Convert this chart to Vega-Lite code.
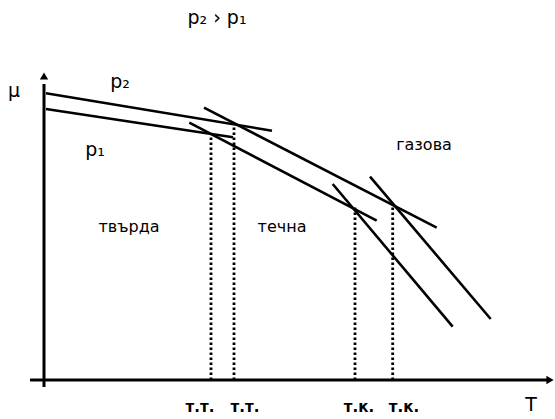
{
  "$schema": "https://vega.github.io/schema/vega-lite/v6.json",
  "width": 555,
  "height": 419,
  "autosize": {"type": "fit", "contains": "padding"},
  "padding": 0,
  "background": "white",
  "config": {"view": {"stroke": null}},
  "datasets": {
    "lines": [
      {"id": "p2_solid", "T": 0.2, "mu": 28.67},
      {"id": "p2_solid", "T": 22.8, "mu": 24.93},
      {"id": "p1_solid", "T": 0.2, "mu": 27.1},
      {"id": "p1_solid", "T": 18.9, "mu": 24.27},
      {"id": "p2_liquid", "T": 16.0, "mu": 27.23},
      {"id": "p2_liquid", "T": 39.27, "mu": 15.23},
      {"id": "p1_liquid", "T": 14.53, "mu": 25.73},
      {"id": "p1_liquid", "T": 33.27, "mu": 15.93},
      {"id": "p1_gas", "T": 28.87, "mu": 19.6},
      {"id": "p1_gas", "T": 40.87, "mu": 5.33},
      {"id": "p2_gas", "T": 32.6, "mu": 20.33},
      {"id": "p2_gas", "T": 44.67, "mu": 6.1}
    ],
    "dotted": [
      {"T": 16.7, "bottom": 0, "top": 24.4},
      {"T": 19.0, "bottom": 0, "top": 25.3},
      {"T": 31.1, "bottom": 0, "top": 17.3},
      {"T": 34.87, "bottom": 0, "top": 17.6}
    ],
    "axes": [
      {"axis": "T", "x1": -1.4, "x2": 50.6, "y1": 0, "y2": 0},
      {"axis": "mu", "x1": 0, "x2": 0, "y1": -0.7, "y2": 29.6}
    ],
    "arrows": [
      {"axis": "T", "T": 50.6, "mu": 0},
      {"axis": "mu", "T": 0, "mu": 30.4}
    ],
    "labels": [
      {"text": "p₂ › p₁", "T": 17.3, "mu": 36.2, "group": "big"},
      {"text": "μ", "T": -3.0, "mu": 28.9, "group": "big"},
      {"text": "p₂", "T": 7.6, "mu": 29.8, "group": "big"},
      {"text": "p₁", "T": 5.1, "mu": 23.0, "group": "big"},
      {"text": "твърда", "T": 8.5, "mu": 15.3, "group": "phase"},
      {"text": "течна", "T": 23.8, "mu": 15.3, "group": "phase"},
      {"text": "газова", "T": 38.0, "mu": 23.5, "group": "phase"},
      {"text": "т.т.", "T": 15.6, "mu": -2.7, "group": "tick"},
      {"text": "т.т.", "T": 20.1, "mu": -2.7, "group": "tick"},
      {"text": "т.к.", "T": 31.5, "mu": -2.7, "group": "tick"},
      {"text": "т.к.", "T": 36.0, "mu": -2.7, "group": "tick"},
      {"text": "T", "T": 48.7, "mu": -2.5, "group": "big"}
    ]
  },
  "layer": [
    {
      "data": {"name": "axes"},
      "mark": {"type": "rule", "color": "black", "strokeWidth": 3},
      "encoding": {
        "x": {"field": "x1", "type": "quantitative", "scale": {"domain": [-4.4, 51.1], "nice": false, "zero": false}, "axis": null},
        "x2": {"field": "x2"},
        "y": {"field": "y1", "type": "quantitative", "scale": {"domain": [-3.9, 38.0], "nice": false, "zero": false}, "axis": null},
        "y2": {"field": "y2"}
      }
    },
    {
      "data": {"name": "arrows"},
      "transform": [{"filter": "datum.axis === 'T'"}],
      "mark": {"type": "point", "shape": "triangle-right", "filled": true, "color": "black", "opacity": 1, "size": 70},
      "encoding": {
        "x": {"field": "T", "type": "quantitative"},
        "y": {"field": "mu", "type": "quantitative"}
      }
    },
    {
      "data": {"name": "arrows"},
      "transform": [{"filter": "datum.axis === 'mu'"}],
      "mark": {"type": "point", "shape": "triangle-up", "filled": true, "color": "black", "opacity": 1, "size": 70},
      "encoding": {
        "x": {"field": "T", "type": "quantitative"},
        "y": {"field": "mu", "type": "quantitative"}
      }
    },
    {
      "data": {"name": "lines"},
      "mark": {"type": "line", "color": "black", "strokeWidth": 2.6},
      "encoding": {
        "x": {"field": "T", "type": "quantitative"},
        "y": {"field": "mu", "type": "quantitative"},
        "detail": {"field": "id", "type": "nominal"}
      }
    },
    {
      "data": {"name": "dotted"},
      "mark": {"type": "rule", "color": "black", "strokeWidth": 2.8, "strokeDash": [2.5, 2.5]},
      "encoding": {
        "x": {"field": "T", "type": "quantitative"},
        "y": {"field": "bottom", "type": "quantitative"},
        "y2": {"field": "top"}
      }
    },
    {
      "data": {"name": "labels"},
      "transform": [{"filter": "datum.group === 'big'"}],
      "mark": {"type": "text", "font": "DejaVu Sans", "fontSize": 19, "color": "black", "align": "center", "baseline": "middle"},
      "encoding": {
        "x": {"field": "T", "type": "quantitative"},
        "y": {"field": "mu", "type": "quantitative"},
        "text": {"field": "text"}
      }
    },
    {
      "data": {"name": "labels"},
      "transform": [{"filter": "datum.group === 'phase'"}],
      "mark": {"type": "text", "font": "DejaVu Sans", "fontSize": 16, "color": "black", "align": "center", "baseline": "middle"},
      "encoding": {
        "x": {"field": "T", "type": "quantitative"},
        "y": {"field": "mu", "type": "quantitative"},
        "text": {"field": "text"}
      }
    },
    {
      "data": {"name": "labels"},
      "transform": [{"filter": "datum.group === 'tick'"}],
      "mark": {"type": "text", "font": "DejaVu Sans", "fontSize": 15, "fontWeight": "bold", "color": "black", "align": "center", "baseline": "middle"},
      "encoding": {
        "x": {"field": "T", "type": "quantitative"},
        "y": {"field": "mu", "type": "quantitative"},
        "text": {"field": "text"}
      }
    }
  ]
}
